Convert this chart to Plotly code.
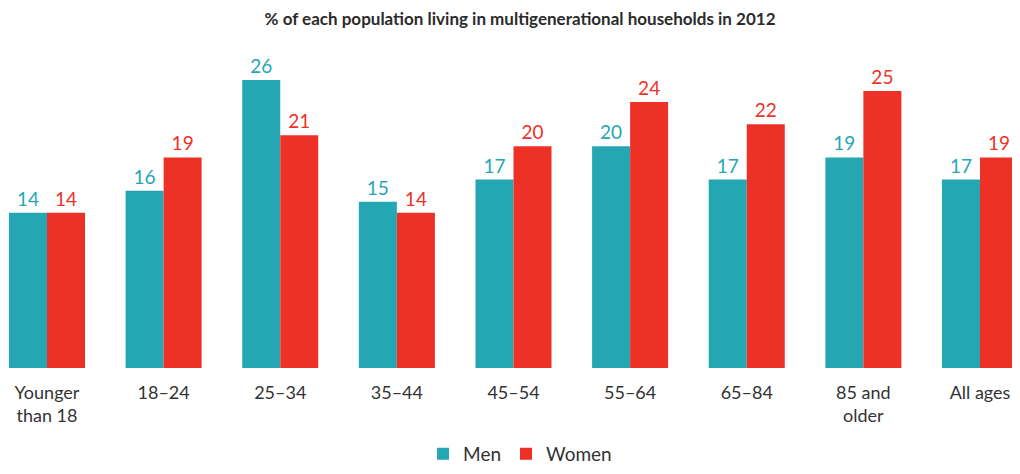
import plotly.graph_objects as go

categories = ["Younger<br>than 18", "18–24", "25–34", "35–44", "45–54", "55–64", "65–84", "85 and<br>older", "All ages"]
men = [14, 16, 26, 15, 17, 20, 17, 19, 17]
women = [14, 19, 21, 14, 20, 24, 22, 25, 19]

TEAL = "#25A7B3"
RED = "#EE3127"
FONT = "Lato, Roboto, sans-serif"

fig = go.Figure()
fig.add_trace(go.Bar(x=categories, y=men, name="Men", marker=dict(color=TEAL, line=dict(width=0)),
                     text=[str(v) for v in men], textposition="outside",
                     textfont=dict(color=TEAL, size=19, family=FONT), cliponaxis=False))
fig.add_trace(go.Bar(x=categories, y=women, name="Women", marker=dict(color=RED, line=dict(width=0)),
                     text=[str(v) for v in women], textposition="outside",
                     textfont=dict(color=RED, size=19, family=FONT), cliponaxis=False))

fig.update_layout(
    width=1004, height=466,
    margin=dict(l=0, r=0, t=28, b=106),
    paper_bgcolor="white", plot_bgcolor="white",
    barmode="group", bargap=0.348, bargroupgap=0,
    font=dict(family=FONT, color="#333333", size=19),
    title=dict(text="<b>% of each population living in multigenerational households in 2012</b>",
               x=0.51, xanchor="center", y=0.9764, yanchor="middle",
               font=dict(size=17, color="#2b2b2b", family=FONT)),
    showlegend=True,
    legend=dict(orientation="h", x=0.51, xanchor="center", y=-0.316, yanchor="bottom",
                font=dict(size=19, color="#333333"), itemsizing="constant", traceorder="normal",
                borderwidth=0),
    xaxis=dict(range=[-0.3344, 8.2744], showgrid=False, showline=False, ticks="",
               ticklabelstandoff=12,
               tickfont=dict(size=18, color="#333333"), fixedrange=True),
    yaxis=dict(range=[0, 29.96], visible=False, showgrid=False, zeroline=False),
)
fig.write_html("out.html")
